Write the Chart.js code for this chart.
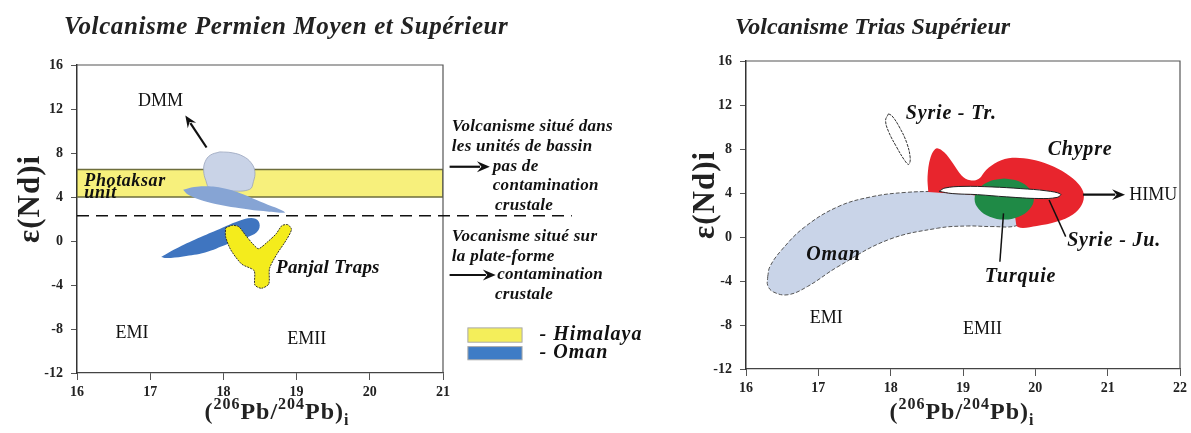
<!DOCTYPE html>
<html>
<head>
<meta charset="utf-8">
<script src="https://cdn.jsdelivr.net/npm/chart.js@4.4.1/dist/chart.umd.min.js"></script>
<style>
    body { margin: 0; background: #fff; width: 1191px; height: 433px; overflow: hidden; position: relative; }
    canvas { position: absolute; top: 0; }
    #permien { left: 0; }
    #trias { left: 660px; }
</style>
</head>
<body>
<canvas id="permien" width="660" height="433"></canvas>
<canvas id="trias" width="531" height="433"></canvas>
<script>
// axes
const yTicks = [-12, -8, -4, 0, 4, 8, 12, 16];
const xTicksPermien = [16, 17, 18, 19, 20, 21];
const xTicksTrias = [16, 17, 18, 19, 20, 21, 22];

// Permien moyen et superieur : fields as [206Pb/204Pb, eNd]
const photaksarBand = [[16, 4], [21, 4], [21, 6.5], [16, 6.5], [16, 4]];
const paleField = [[17.95, 8.1], [18.12, 8.02], [18.27, 7.7], [18.38, 7.1], [18.43, 6.3], [18.41, 5.4], [18.36, 4.7],
    [18.1, 4.55], [17.82, 4.75], [17.76, 5.5], [17.73, 6.4], [17.75, 7.2], [17.82, 7.8], [17.95, 8.1]];
const midBlueField = [[17.45, 4.65], [17.6, 4.9], [17.77, 4.97], [18.0, 4.8], [18.23, 4.35], [18.5, 3.6], [18.84, 2.62],
    [18.6, 2.68], [18.23, 2.97], [17.77, 3.57], [17.52, 4.2], [17.45, 4.65]];
const omanPermien = [[17.15, -1.45], [17.35, -0.7], [17.65, 0.25], [17.95, 1.1], [18.2, 1.8], [18.38, 2.1], [18.48, 1.8],
    [18.48, 1.0], [18.35, 0.4], [18.05, -0.3], [17.75, -1.05], [17.45, -1.4], [17.22, -1.55], [17.15, -1.45]];
const panjalTraps = [[18.03, 1.2], [18.12, 1.42], [18.21, 1.3], [18.3, 0.55], [18.4, -0.25], [18.48, -0.7], [18.6, -0.1],
    [18.72, 0.65], [18.8, 1.4], [18.88, 1.48], [18.93, 1.05], [18.86, 0.1], [18.73, -1.2], [18.63, -2.5], [18.62, -3.9],
    [18.52, -4.3], [18.43, -4.0], [18.42, -2.7], [18.25, -2.1], [18.1, -0.8], [18.03, 0.4], [18.03, 1.2]];
const dmmArrow = [[17.77, 8.5], [17.48, 11.4]];
const contaminationLimit = 2.3;

// Trias superieur
const omanTrias = [[16.30, -3.6], [16.33, -2.7], [16.49, -1.2], [16.81, 0.9], [17.27, 2.75], [17.73, 3.65], [18.2, 4.05],
    [18.7, 4.15], [19.2, 4.2], [19.7, 4.1], [19.95, 3.2], [19.9, 2.0], [19.75, 1.05], [19.4, 0.95], [19.06, 1.0],
    [18.65, 0.8], [17.96, -0.27], [17.27, -2.7], [16.85, -4.5], [16.58, -5.25], [16.38, -5.0], [16.30, -4.4], [16.30, -3.6]];
const chypre = [[18.52, 4.1], [18.51, 5.5], [18.55, 7.2], [18.63, 8.05], [18.74, 7.7], [18.86, 6.7], [18.98, 5.6],
    [19.1, 5.15], [19.22, 5.3], [19.32, 6.1], [19.48, 6.85], [19.68, 7.2], [19.95, 7.05], [20.2, 6.55], [20.42, 5.8],
    [20.6, 4.8], [20.67, 3.9], [20.64, 2.9], [20.52, 2.05], [20.3, 1.4], [20.02, 1.0], [19.76, 0.9], [19.7, 2.0],
    [19.3, 3.6], [18.52, 4.1]];
const turquie = [[19.57, 5.32], [19.77, 5.07], [19.92, 4.38], [19.98, 3.45], [19.92, 2.52], [19.77, 1.83], [19.57, 1.58],
    [19.37, 1.83], [19.22, 2.52], [19.16, 3.45], [19.22, 4.38], [19.37, 5.07], [19.57, 5.32]];
const syrieJu = [[18.67, 4.15], [18.75, 4.45], [19.0, 4.6], [19.4, 4.55], [19.8, 4.4], [20.15, 4.2], [20.35, 3.9],
    [20.3, 3.6], [20.05, 3.5], [19.6, 3.65], [19.2, 3.85], [18.85, 3.95], [18.67, 4.15]];
const syrieTr = [[17.97, 11.2], [18.02, 11.0], [18.12, 10.0], [18.22, 8.6], [18.27, 7.2], [18.25, 6.6], [18.2, 6.9],
    [18.08, 8.2], [17.97, 9.6], [17.93, 10.6], [17.97, 11.2]];
const himuArrow = [[20.66, 3.85], [21.24, 3.85]];

const SERIF = "'Liberation Serif', 'Times New Roman', serif";

function field(points, fill, border, extra) {
    return Object.assign({
        data: points.map(p => ({ x: p[0], y: p[1] })),
        showLine: true,
        fill: 'shape',
        backgroundColor: fill,
        borderColor: border,
        borderWidth: 1,
        pointRadius: 0,
        tension: 0.4
    }, extra || {});
}

function drawArrow(ctx, x1, y1, x2, y2, head, width) {
    const a = Math.atan2(y2 - y1, x2 - x1);
    ctx.lineWidth = width;
    ctx.beginPath();
    ctx.moveTo(x1, y1);
    ctx.lineTo(x2 - Math.cos(a) * head * 0.7, y2 - Math.sin(a) * head * 0.7);
    ctx.stroke();
    ctx.beginPath();
    ctx.moveTo(x2, y2);
    ctx.lineTo(x2 - head * Math.cos(a - 0.4), y2 - head * Math.sin(a - 0.4));
    ctx.lineTo(x2 - head * 0.6 * Math.cos(a), y2 - head * 0.6 * Math.sin(a));
    ctx.lineTo(x2 - head * Math.cos(a + 0.4), y2 - head * Math.sin(a + 0.4));
    ctx.closePath();
    ctx.fill();
}

// title, frame, axis titles and annotations, all placed through the scales
const annotationPlugin = {
    id: 'annotations',
    afterDatasetsDraw(chart, args, opts) {
        const { ctx, chartArea } = chart;
        const xs = chart.scales.x, ys = chart.scales.y;
        const px = v => xs.getPixelForValue(v), py = v => ys.getPixelForValue(v);

        ctx.save();
        ctx.strokeStyle = '#555';
        ctx.lineWidth = 1.2;
        ctx.beginPath();
        ctx.moveTo(chartArea.left, chartArea.top);
        ctx.lineTo(chartArea.right, chartArea.top);
        ctx.lineTo(chartArea.right, chartArea.bottom);
        ctx.stroke();

        ctx.fillStyle = '#111';
        ctx.strokeStyle = '#111';
        (opts.dashed || []).forEach(d => {
            ctx.save();
            ctx.setLineDash([12, 7]);
            ctx.lineWidth = 1.5;
            ctx.beginPath();
            ctx.moveTo(px(d.from), py(d.y));
            ctx.lineTo(px(d.to), py(d.y));
            ctx.stroke();
            ctx.restore();
        });

        (opts.lines || []).forEach(l => {
            ctx.lineWidth = 1.5;
            ctx.beginPath();
            ctx.moveTo(px(l[0][0]), py(l[0][1]));
            ctx.lineTo(px(l[1][0]), py(l[1][1]));
            ctx.stroke();
        });

        (opts.arrows || []).forEach(a => {
            drawArrow(ctx, px(a.pts[0][0]), py(a.pts[0][1]), px(a.pts[1][0]), py(a.pts[1][1]), a.head || 12, a.width || 2);
        });

        (opts.boxes || []).forEach(b => {
            ctx.fillStyle = b.color;
            ctx.fillRect(px(b.x0), py(b.y1), px(b.x1) - px(b.x0), py(b.y0) - py(b.y1));
            ctx.strokeStyle = '#aaa';
            ctx.lineWidth = 1;
            ctx.strokeRect(px(b.x0), py(b.y1), px(b.x1) - px(b.x0), py(b.y0) - py(b.y1));
        });

        ctx.fillStyle = '#111';
        ctx.textBaseline = 'middle';
        (opts.labels || []).forEach(l => {
            ctx.font = l.font;
            ctx.letterSpacing = (l.spacing || 0) + 'px';
            ctx.textAlign = l.align || 'left';
            ctx.fillText(l.text, px(l.x), py(l.y));
        });

        // chart title
        ctx.font = 'italic bold ' + opts.title.size + 'px ' + SERIF;
        ctx.letterSpacing = opts.title.spacing + 'px';
        ctx.textAlign = 'left';
        ctx.fillStyle = '#222';
        ctx.fillText(opts.title.text, opts.title.left, 28);

        // y axis title
        ctx.save();
        ctx.translate(opts.yTitle.x, (chartArea.top + chartArea.bottom) / 2 - 20);
        ctx.rotate(-Math.PI / 2);
        ctx.textAlign = 'center';
        ctx.letterSpacing = '1px';
        ctx.font = 'bold 31px ' + SERIF;
        ctx.fillText('ε(Nd)i', 0, 0);
        ctx.restore();

        // x axis title (206Pb/204Pb)i
        ctx.letterSpacing = '1px';
        const parts = [
            { t: '(', f: 'bold 24px ', dy: 0 },
            { t: '206', f: 'bold 16px ', dy: -8 },
            { t: 'Pb/', f: 'bold 24px ', dy: 0 },
            { t: '204', f: 'bold 16px ', dy: -8 },
            { t: 'Pb)', f: 'bold 24px ', dy: 0 },
            { t: 'i', f: 'bold 16px ', dy: 8 }
        ];
        let total = 0;
        parts.forEach(p => { ctx.font = p.f + SERIF; p.w = ctx.measureText(p.t).width; total += p.w; });
        let x = opts.xTitle.center - total / 2;
        ctx.textAlign = 'left';
        parts.forEach(p => {
            ctx.font = p.f + SERIF;
            ctx.fillText(p.t, x, 413 + p.dy);
            x += p.w;
        });
        ctx.restore();
    }
};

function scales(xMin, xMax, xTickList, yWidth) {
    const tickFont = { family: SERIF, size: 14, weight: 'bold' };
    return {
        x: {
            type: 'linear', min: xMin, max: xMax,
            afterBuildTicks: s => { s.ticks = xTickList.map(v => ({ value: v })); },
            afterFit: s => { s.height = 30; },
            ticks: { color: '#222', font: tickFont, padding: 4 },
            grid: { drawOnChartArea: false, tickLength: 7, color: '#555' },
            border: { color: '#444', width: 1.2 }
        },
        y: {
            type: 'linear', min: -12, max: 16,
            afterBuildTicks: s => { s.ticks = yTicks.map(v => ({ value: v })); },
            afterFit: s => { s.width = yWidth; },
            ticks: { color: '#222', font: tickFont, padding: 8 },
            grid: { drawOnChartArea: false, tickLength: 6, color: '#555' },
            border: { color: '#333', width: 1.5 }
        }
    };
}

const NOTE = 'italic bold 17px ' + SERIF;
const LABEL = 'italic bold 20px ' + SERIF;
const PLAIN = '18px ' + SERIF;

// datasets are listed top layer first
const permienChart = new Chart(document.getElementById('permien'), {
    type: 'scatter',
    data: {
        datasets: [
            field(panjalTraps, '#f4ec1c', '#333', { tension: 0.25, borderDash: [2, 1] }),
            field(omanPermien, '#3f75c0', '#3f75c0', { borderWidth: 0 }),
            field(midBlueField, '#86a4d4', '#86a4d4', { borderWidth: 0 }),
            field(paleField, '#c9d3e7', '#98a3bd', { borderWidth: 0.8 }),
            field(photaksarBand, '#f7f07c', '#6e6e3c', { tension: 0, borderWidth: 1.5 })
        ]
    },
    options: {
        responsive: false,
        animation: false,
        devicePixelRatio: 1,
        layout: { padding: { left: 0, top: 65, right: 217, bottom: 30 } },
        scales: scales(16, 21, xTicksPermien, 77),
        plugins: {
            legend: { display: false },
            tooltip: { enabled: false },
            annotations: {
                title: { text: 'Volcanisme Permien Moyen et Supérieur', left: 64, size: 25, spacing: 0.6 },
                yTitle: { x: 31 },
                xTitle: { center: 277 },
                dashed: [{ y: contaminationLimit, from: 16, to: 22.76 }],
                arrows: [
                    { pts: dmmArrow, head: 13, width: 2.2 },
                    { pts: [[21.09, 6.75], [21.64, 6.75]], head: 14, width: 2.2 },
                    { pts: [[21.09, -3.09], [21.72, -3.09]], head: 14, width: 2.2 }
                ],
                boxes: [
                    { x0: 21.34, x1: 22.08, y0: -9.2, y1: -7.9, color: '#f4ee5a' },
                    { x0: 21.34, x1: 22.08, y0: -10.8, y1: -9.6, color: '#3e7cc6' }
                ],
                labels: [
                    { text: 'DMM', x: 17.14, y: 12.66, font: PLAIN, align: 'center' },
                    { text: 'Photaksar', x: 16.1, y: 5.45, font: 'italic bold 18px ' + SERIF, spacing: 0.6 },
                    { text: 'unit', x: 16.1, y: 4.35, font: 'italic bold 18px ' + SERIF, spacing: 0.6 },
                    { text: 'Panjal Traps', x: 18.72, y: -2.5, font: 'italic bold 19px ' + SERIF, spacing: 0.2 },
                    { text: 'EMI', x: 16.75, y: -8.4, font: PLAIN, align: 'center' },
                    { text: 'EMII', x: 19.14, y: -8.9, font: PLAIN, align: 'center' },
                    { text: 'Volcanisme situé dans', x: 21.12, y: 10.4, font: NOTE, spacing: 0.3 },
                    { text: 'les unités de bassin', x: 21.12, y: 8.57, font: NOTE, spacing: 0.3 },
                    { text: 'pas de', x: 21.68, y: 6.75, font: NOTE, spacing: 0.3 },
                    { text: 'contamination', x: 21.68, y: 5.0, font: NOTE, spacing: 0.3 },
                    { text: 'crustale', x: 21.71, y: 3.18, font: NOTE, spacing: 0.3 },
                    { text: 'Vocanisme situé sur', x: 21.12, y: 0.39, font: NOTE, spacing: 0.3 },
                    { text: 'la plate-forme', x: 21.12, y: -1.43, font: NOTE, spacing: 0.3 },
                    { text: 'contamination', x: 21.74, y: -3.09, font: NOTE, spacing: 0.3 },
                    { text: 'crustale', x: 21.71, y: -4.9, font: NOTE, spacing: 0.3 },
                    { text: '- Himalaya', x: 22.32, y: -8.55, font: LABEL, spacing: 1 },
                    { text: '- Oman', x: 22.32, y: -10.2, font: LABEL, spacing: 1 }
                ]
            }
        }
    },
    plugins: [annotationPlugin]
});

const triasChart = new Chart(document.getElementById('trias'), {
    type: 'scatter',
    data: {
        datasets: [
            field(syrieJu, '#ffffff', '#222', { borderWidth: 1 }),
            field(turquie, '#1f8a46', '#1f8a46', { borderWidth: 0 }),
            field(chypre, '#e8252d', '#e8252d', { borderWidth: 0, tension: 0.35 }),
            field(omanTrias, '#c9d4e8', '#555', { borderWidth: 1, borderDash: [4, 2] }),
            field(syrieTr, 'rgba(255,255,255,0)', '#333', { borderWidth: 1, borderDash: [3, 1] })
        ]
    },
    options: {
        responsive: false,
        animation: false,
        devicePixelRatio: 1,
        layout: { padding: { left: 0, top: 61, right: 8, bottom: 34 } },
        scales: scales(16, 22, xTicksTrias, 86),
        plugins: {
            legend: { display: false },
            tooltip: { enabled: false },
            annotations: {
                title: { text: 'Volcanisme Trias Supérieur', left: 75, size: 24, spacing: 0 },
                yTitle: { x: 46 },
                xTitle: { center: 302 },
                lines: [
                    [[19.56, 2.15], [19.51, -2.25]],
                    [[20.19, 3.36], [20.42, 0.03]]
                ],
                arrows: [{ pts: himuArrow, head: 14, width: 2.2 }],
                labels: [
                    { text: 'Syrie - Tr.', x: 18.21, y: 11.24, font: LABEL, spacing: 0.8 },
                    { text: 'Chypre', x: 20.17, y: 7.97, font: LABEL, spacing: 0.8 },
                    { text: 'Oman', x: 17.21, y: -1.64, font: LABEL, spacing: 0.8, align: 'center' },
                    { text: 'Turquie', x: 19.3, y: -3.6, font: LABEL, spacing: 0.8 },
                    { text: 'Syrie - Ju.', x: 20.44, y: -0.34, font: LABEL, spacing: 0.8 },
                    { text: 'HIMU', x: 21.3, y: 3.75, font: PLAIN },
                    { text: 'EMI', x: 17.11, y: -7.4, font: PLAIN, align: 'center' },
                    { text: 'EMII', x: 19.27, y: -8.4, font: PLAIN, align: 'center' }
                ]
            }
        }
    },
    plugins: [annotationPlugin]
});
</script>
</body>
</html>
